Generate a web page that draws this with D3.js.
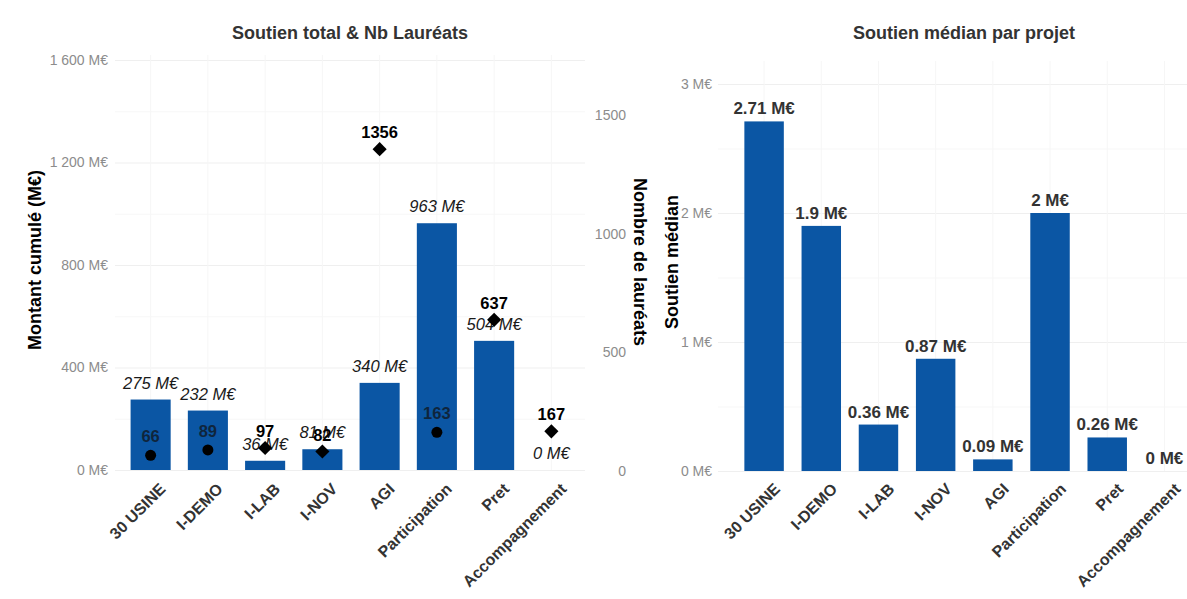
<!DOCTYPE html>
<html lang="fr">

<head>
    <meta charset="UTF-8">
    <title>Soutien total & Nb Lauréats</title>
    <script src="https://cdn.jsdelivr.net/npm/d3@7"></script>
    <style>
        body {
            margin: 0;
            background-color: #fff;
        }

        svg {
            display: block;
            font-family: "Liberation Sans", Arial, sans-serif;
        }

        .axis path,
        .grid path {
            display: none;
        }

        .grid line {
            stroke: #f0f0f0;
        }
    </style>
</head>

<body>
    <svg width="1187" height="599"></svg>
    <script>
        var categories = ["30 USINE", "I-DEMO", "I-LAB", "I-NOV", "AGI", "Participation", "Pret", "Accompagnement"];
        var montantTotal = [275, 232, 36, 81, 340, 963, 504, 0];
        var nbLaureats = [66, 89, 97, 82, 1356, 163, 637, 167];
        var typePoint = ["rond", "rond", "losange", "losange", "losange", "rond", "losange", "losange"];
        var soutienMedian = [2.71, 1.9, 0.36, 0.87, 0.09, 2, 0.26, 0];
        var montantTicks = [0, 400, 800, 1200, 1600];
        var nbTicks = [0, 500, 1000, 1500];
        var medianTicks = [0, 1, 2, 3];

        var blue = "#0b56a4";
        var fr = d3.formatLocale({ decimal: ",", thousands: "\u00a0", grouping: [3], currency: ["", "€"] });
        var fmtMontant = function (v) { return fr.format(",")(v) + " M€"; };
        var fmtMedian = function (v) { return d3.format("~g")(v) + " M€"; };

        var svg = d3.select("svg");

        var data = categories.map(function (c, i) {
            return { cat: c, montant: montantTotal[i], nb: nbLaureats[i], type: typePoint[i], median: soutienMedian[i] };
        });

        function styleTicks(sel, size, weight, color) {
            sel.selectAll("text")
                .style("font-size", size)
                .style("font-weight", weight)
                .style("fill", color)
                .style("font-family", "Liberation Sans, Arial, sans-serif");
        }

        // ---- panneau gauche
        var x1 = d3.scaleBand().domain(categories).range([122, 580]).paddingInner(0.3).paddingOuter(0.15);
        var yMontant = d3.scaleLinear().domain([0, 1600]).range([470, 60]);
        var yNb = d3.scaleLinear().domain([0, 1500]).range([471, 115]);

        var g1 = svg.append("g");

        g1.append("g")
            .attr("class", "grid")
            .attr("transform", "translate(115,0)")
            .call(d3.axisLeft(yMontant).tickValues(d3.range(0, 1601, 200)).tickSize(-470).tickFormat(""))
            .selectAll("line")
            .style("stroke", function (d) { return d % 400 === 0 ? "#efefef" : "#f7f7f7"; });

        g1.append("g")
            .attr("class", "grid")
            .attr("transform", "translate(0,470)")
            .call(d3.axisBottom(x1).tickSize(-415).tickFormat(""))
            .selectAll("line")
            .style("stroke", "#f6f6f6");

        g1.append("g")
            .attr("class", "axis")
            .attr("transform", "translate(108,0)")
            .call(d3.axisLeft(yMontant).tickValues(montantTicks).tickSize(0).tickPadding(0).tickFormat(fmtMontant))
            .call(styleTicks, "14px", "normal", "#8c8c8c");

        g1.append("g")
            .attr("class", "axis")
            .attr("transform", "translate(0,482)")
            .call(d3.axisBottom(x1).tickSize(0).tickPadding(0))
            .call(styleTicks, "16px", "bold", "#333")
            .selectAll("text")
            .attr("text-anchor", "end")
            .attr("transform", "translate(8,0) rotate(-45)");

        g1.selectAll(".bar")
            .data(data)
            .enter()
            .append("rect")
            .attr("class", "bar")
            .attr("x", function (d) { return x1(d.cat); })
            .attr("width", x1.bandwidth())
            .attr("y", function (d) { return yMontant(d.montant); })
            .attr("height", function (d) { return yMontant(0) - yMontant(d.montant); })
            .attr("fill", blue);

        g1.selectAll(".bar-label")
            .data(data)
            .enter()
            .append("text")
            .attr("class", "bar-label")
            .attr("x", function (d) { return x1(d.cat) + x1.bandwidth() / 2; })
            .attr("y", function (d) { return yMontant(d.montant) - 11; })
            .attr("text-anchor", "middle")
            .style("font-size", "16.5px")
            .style("font-style", "italic")
            .style("fill", "#1a1a1a")
            .text(function (d) { return fmtMontant(d.montant); });

        var symRond = d3.symbol().type(d3.symbolCircle).size(95);
        var symLosange = d3.symbol().type(d3.symbolSquare).size(100);

        g1.selectAll(".point")
            .data(data)
            .enter()
            .append("path")
            .attr("class", "point")
            .attr("d", function (d) { return d.type === "rond" ? symRond() : symLosange(); })
            .attr("transform", function (d) {
                var t = "translate(" + (x1(d.cat) + x1.bandwidth() / 2) + "," + yNb(d.nb) + ")";
                return d.type === "rond" ? t : t + " rotate(45)";
            })
            .attr("fill", "#000");

        g1.selectAll(".point-label")
            .data(data)
            .enter()
            .append("text")
            .attr("class", "point-label")
            .attr("x", function (d) { return x1(d.cat) + x1.bandwidth() / 2; })
            .attr("y", function (d) { return yNb(d.nb) - (d.type === "rond" ? 13 : 11); })
            .attr("text-anchor", "middle")
            .style("font-size", "16.5px")
            .style("font-weight", "bold")
            .style("fill", function (d) { return d.type === "rond" ? "#111" : "#000"; })
            .style("opacity", function (d) { return d.type === "rond" ? 0.7 : 1; })
            .text(function (d) { return d.nb; });

        g1.append("text")
            .attr("transform", "translate(41,260) rotate(-90)")
            .attr("text-anchor", "middle")
            .style("font-size", "18px")
            .style("font-weight", "bold")
            .text("Montant cumulé (M€)");

        g1.append("text")
            .attr("x", 350)
            .attr("y", 39)
            .attr("text-anchor", "middle")
            .style("font-size", "18px")
            .style("font-weight", "bold")
            .style("fill", "#333")
            .text("Soutien total & Nb Lauréats");

        // ---- axe secondaire (nombre de lauréats)
        svg.append("g")
            .attr("class", "axis")
            .attr("transform", "translate(626,0)")
            .call(d3.axisLeft(yNb).tickValues(nbTicks).tickSize(0).tickPadding(0).tickFormat(d3.format("d")))
            .call(styleTicks, "14px", "normal", "#8c8c8c");

        svg.append("text")
            .attr("transform", "translate(634,262) rotate(90)")
            .attr("text-anchor", "middle")
            .style("font-size", "18px")
            .style("font-weight", "bold")
            .text("Nombre de lauréats");

        // ---- panneau droit
        var x2 = d3.scaleBand().domain(categories).range([735.5, 1193]).paddingInner(0.31).paddingOuter(0.155);
        var yMedian = d3.scaleLinear().domain([0, 3]).range([471, 84]);

        var g2 = svg.append("g");

        g2.append("g")
            .attr("class", "grid")
            .attr("transform", "translate(718,0)")
            .call(d3.axisLeft(yMedian).tickValues(d3.range(0, 3.01, 0.5)).tickSize(-469).tickFormat(""))
            .selectAll("line")
            .style("stroke", function (d) { return d % 1 === 0 ? "#efefef" : "#f7f7f7"; });

        g2.append("g")
            .attr("class", "grid")
            .attr("transform", "translate(0,471)")
            .call(d3.axisBottom(x2).tickSize(-410).tickFormat(""))
            .selectAll("line")
            .style("stroke", "#f6f6f6");

        g2.append("g")
            .attr("class", "axis")
            .attr("transform", "translate(712,0)")
            .call(d3.axisLeft(yMedian).tickValues(medianTicks).tickSize(0).tickPadding(0).tickFormat(fmtMedian))
            .call(styleTicks, "14px", "normal", "#8c8c8c");

        g2.append("g")
            .attr("class", "axis")
            .attr("transform", "translate(0,482)")
            .call(d3.axisBottom(x2).tickSize(0).tickPadding(0))
            .call(styleTicks, "16px", "bold", "#333")
            .selectAll("text")
            .attr("text-anchor", "end")
            .attr("transform", "translate(9,0) rotate(-45)");

        g2.selectAll(".bar")
            .data(data)
            .enter()
            .append("rect")
            .attr("class", "bar")
            .attr("x", function (d) { return x2(d.cat); })
            .attr("width", x2.bandwidth())
            .attr("y", function (d) { return yMedian(d.median); })
            .attr("height", function (d) { return yMedian(0) - yMedian(d.median); })
            .attr("fill", blue);

        g2.selectAll(".bar-label")
            .data(data)
            .enter()
            .append("text")
            .attr("class", "bar-label")
            .attr("x", function (d) { return x2(d.cat) + x2.bandwidth() / 2; })
            .attr("y", function (d) { return yMedian(d.median) - 7; })
            .attr("text-anchor", "middle")
            .style("font-size", "17px")
            .style("font-weight", "bold")
            .style("fill", "#333")
            .text(function (d) { return fmtMedian(d.median); });

        g2.append("text")
            .attr("transform", "translate(678,262) rotate(-90)")
            .attr("text-anchor", "middle")
            .style("font-size", "18px")
            .style("font-weight", "bold")
            .text("Soutien médian");

        g2.append("text")
            .attr("x", 964)
            .attr("y", 39)
            .attr("text-anchor", "middle")
            .style("font-size", "18px")
            .style("font-weight", "bold")
            .style("fill", "#333")
            .text("Soutien médian par projet");
    </script>
</body>

</html>
